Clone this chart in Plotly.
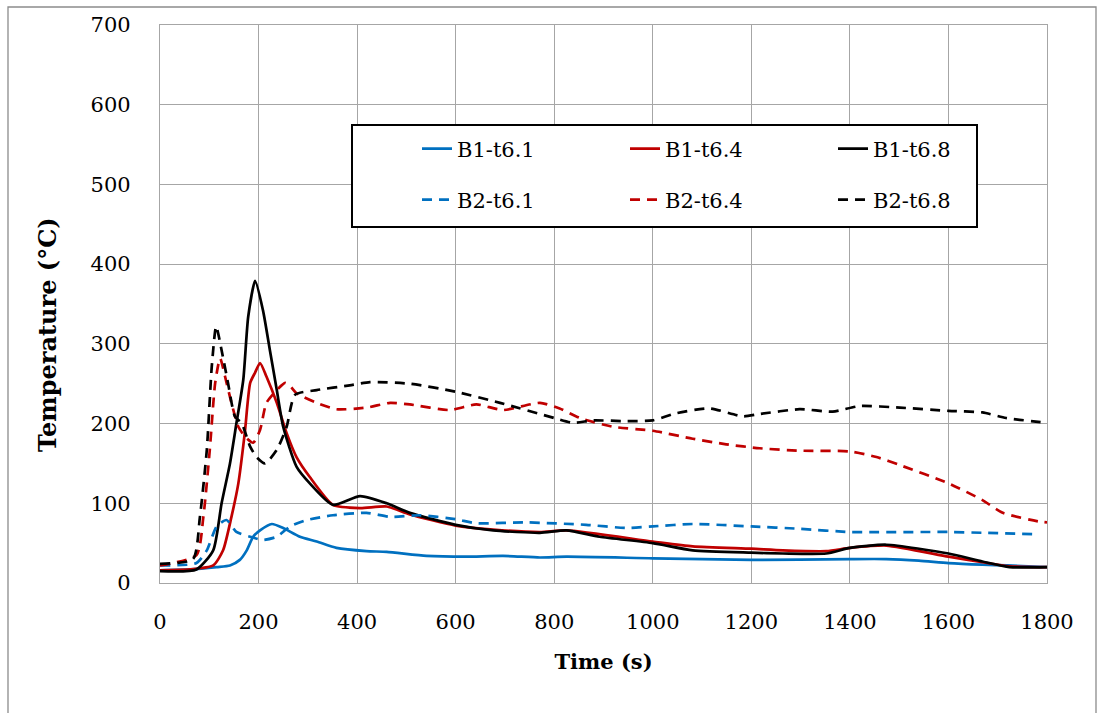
import plotly.graph_objects as go

# ---- data ----
b1_61_t = [0, 60, 115, 142, 162, 176, 189, 203, 227, 250, 284, 318, 358, 419, 460, 541, 620, 696, 771, 825, 1000, 1200, 1400, 1474, 1540, 1600, 1669, 1720, 1800]
b1_61_v = [16, 17, 20, 22, 29, 41, 58, 66, 74, 69, 58, 52, 44, 40, 39, 34, 33, 34, 32, 33, 31, 29, 30, 30, 28, 25, 23, 22, 20]

b1_64_t = [0, 60, 108, 128, 145, 159, 172, 183, 193, 203, 216, 237, 257, 277, 304, 351, 406, 460, 507, 600, 676, 771, 825, 1000, 1081, 1200, 1264, 1352, 1400, 1474, 1600, 1669, 1724, 1800]
b1_64_v = [16, 17, 22, 41, 83, 125, 188, 251, 264, 276, 259, 226, 188, 158, 133, 98, 94, 96, 86, 72, 67, 64, 66, 52, 46, 43, 41, 40, 44, 47, 33, 26, 21, 20]

b1_68_t = [0, 74, 108, 125, 142, 155, 169, 179, 193, 209, 223, 237, 250, 277, 304, 351, 406, 460, 507, 600, 676, 771, 825, 892, 1000, 1081, 1200, 1264, 1352, 1400, 1474, 1600, 1669, 1724, 1800]
b1_68_v = [15, 17, 41, 100, 150, 200, 255, 334, 379, 342, 292, 242, 196, 146, 125, 98, 109, 100, 88, 73, 66, 63, 66, 58, 50, 41, 38, 37, 37, 44, 48, 37, 27, 20, 20]

b2_61_t = [0, 74, 95, 115, 135, 155, 183, 209, 237, 264, 298, 351, 419, 467, 527, 600, 642, 744, 865, 947, 1000, 1081, 1200, 1298, 1400, 1600, 1669, 1780]
b2_61_v = [22, 25, 41, 71, 79, 64, 58, 54, 58, 71, 79, 85, 88, 83, 85, 80, 75, 76, 73, 69, 71, 74, 71, 68, 64, 64, 63, 61]

b2_64_t = [0, 74, 88, 101, 112, 122, 132, 145, 159, 172, 189, 203, 216, 237, 254, 264, 277, 318, 358, 419, 467, 507, 588, 642, 696, 771, 811, 852, 919, 1000, 1081, 1149, 1217, 1298, 1400, 1454, 1501, 1600, 1669, 1710, 1785, 1800]
b2_64_v = [22, 35, 83, 167, 251, 282, 259, 226, 196, 184, 176, 192, 226, 242, 251, 247, 238, 226, 218, 220, 226, 224, 217, 224, 217, 226, 219, 207, 196, 191, 181, 174, 169, 166, 165, 158, 148, 125, 104, 88, 77, 76]

b2_68_t = [0, 67, 81, 95, 105, 114, 125, 138, 152, 166, 183, 196, 213, 237, 257, 274, 318, 385, 426, 507, 600, 690, 800, 838, 879, 947, 1000, 1048, 1115, 1183, 1217, 1298, 1365, 1420, 1501, 1600, 1669, 1717, 1800]
b2_68_v = [24, 30, 83, 167, 271, 322, 292, 251, 209, 200, 171, 158, 150, 167, 196, 236, 242, 248, 252, 250, 240, 226, 207, 201, 204, 203, 204, 213, 219, 209, 212, 218, 215, 222, 220, 216, 214, 207, 201]

x_ticks = [0, 200, 400, 600, 800, 1000, 1200, 1400, 1600, 1800]
y_ticks = [0, 100, 200, 300, 400, 500, 600, 700]

BLUE = "#0070C0"
RED = "#C00000"
BLACK = "#000000"
FONT = "DejaVu Serif"
DASH = "10px,7px"

series = [
    ("B1-t6.1", b1_61_t, b1_61_v, BLUE, "solid", "legend"),
    ("B1-t6.4", b1_64_t, b1_64_v, RED, "solid", "legend"),
    ("B1-t6.8", b1_68_t, b1_68_v, BLACK, "solid", "legend"),
    ("B2-t6.1", b2_61_t, b2_61_v, BLUE, DASH, "legend2"),
    ("B2-t6.4", b2_64_t, b2_64_v, RED, DASH, "legend2"),
    ("B2-t6.8", b2_68_t, b2_68_v, BLACK, DASH, "legend2"),
]

fig = go.Figure()
for name, t, v, c, d, lg in series:
    fig.add_trace(go.Scatter(
        x=t, y=v, name=name, mode="lines", legend=lg,
        line=dict(color=c, width=2.7, dash=d, shape="spline", smoothing=0.6),
    ))

W, H = 1103, 713
L, R, T, B = 160, 56, 25, 130
pw, ph = W - L - R, H - T - B

def px_x(p):
    return (p - L) / pw

def px_y(p):
    return (H - B - p) / ph

legend_common = dict(
    orientation="h", xanchor="left", yanchor="middle",
    font=dict(family=FONT, size=21, color="black"),
    bgcolor="rgba(0,0,0,0)", borderwidth=0,
    entrywidth=163, entrywidthmode="pixels", itemwidth=30,
)

fig.update_layout(
    width=W, height=H,
    margin=dict(l=L, r=R, t=T, b=B),
    paper_bgcolor="white", plot_bgcolor="white",
    font=dict(family=FONT, size=21, color="black"),
    showlegend=True,
    legend=dict(x=px_x(417), y=px_y(149), **legend_common),
    legend2=dict(x=px_x(417), y=px_y(200), **legend_common),
    xaxis=dict(
        range=[0, 1800], tickvals=x_ticks, ticktext=[str(v) for v in x_ticks],
        showgrid=True, gridcolor="#A6A6A6", gridwidth=1.3,
        showline=True, linecolor="#A6A6A6", linewidth=1.3, mirror=True,
        ticks="", ticklabelstandoff=20, zeroline=False,
        tickfont=dict(family=FONT, size=21),
        title=dict(text="<b>Time (s)</b>", font=dict(family=FONT, size=21), standoff=20),
    ),
    yaxis=dict(
        range=[0, 700], tickvals=y_ticks, ticktext=[str(v) for v in y_ticks],
        showgrid=True, gridcolor="#A6A6A6", gridwidth=1.3,
        showline=True, linecolor="#A6A6A6", linewidth=1.3, mirror=True,
        ticks="", ticklabelstandoff=24, zeroline=False,
        tickfont=dict(family=FONT, size=21),
    ),
    annotations=[
        dict(text="<b>Temperature (°C)</b>", xref="paper", yref="paper",
             x=px_x(47), y=px_y(335), xanchor="center", yanchor="middle",
             textangle=-90, showarrow=False, font=dict(family=FONT, size=24, color="black")),
    ],
    shapes=[
        dict(type="rect", xref="paper", yref="paper",
             x0=px_x(352), x1=px_x(977), y0=px_y(227), y1=px_y(125),
             line=dict(color="black", width=2), fillcolor="white", layer="above"),
        dict(type="rect", xref="paper", yref="paper",
             x0=px_x(8), x1=px_x(1096), y0=px_y(725), y1=px_y(7),
             line=dict(color="#8C8C8C", width=1.3), fillcolor="rgba(0,0,0,0)", layer="below"),
    ],
)

fig.write_html("out.html", config={"displayModeBar": False},
               post_script="document.body.style.margin='0px';")
